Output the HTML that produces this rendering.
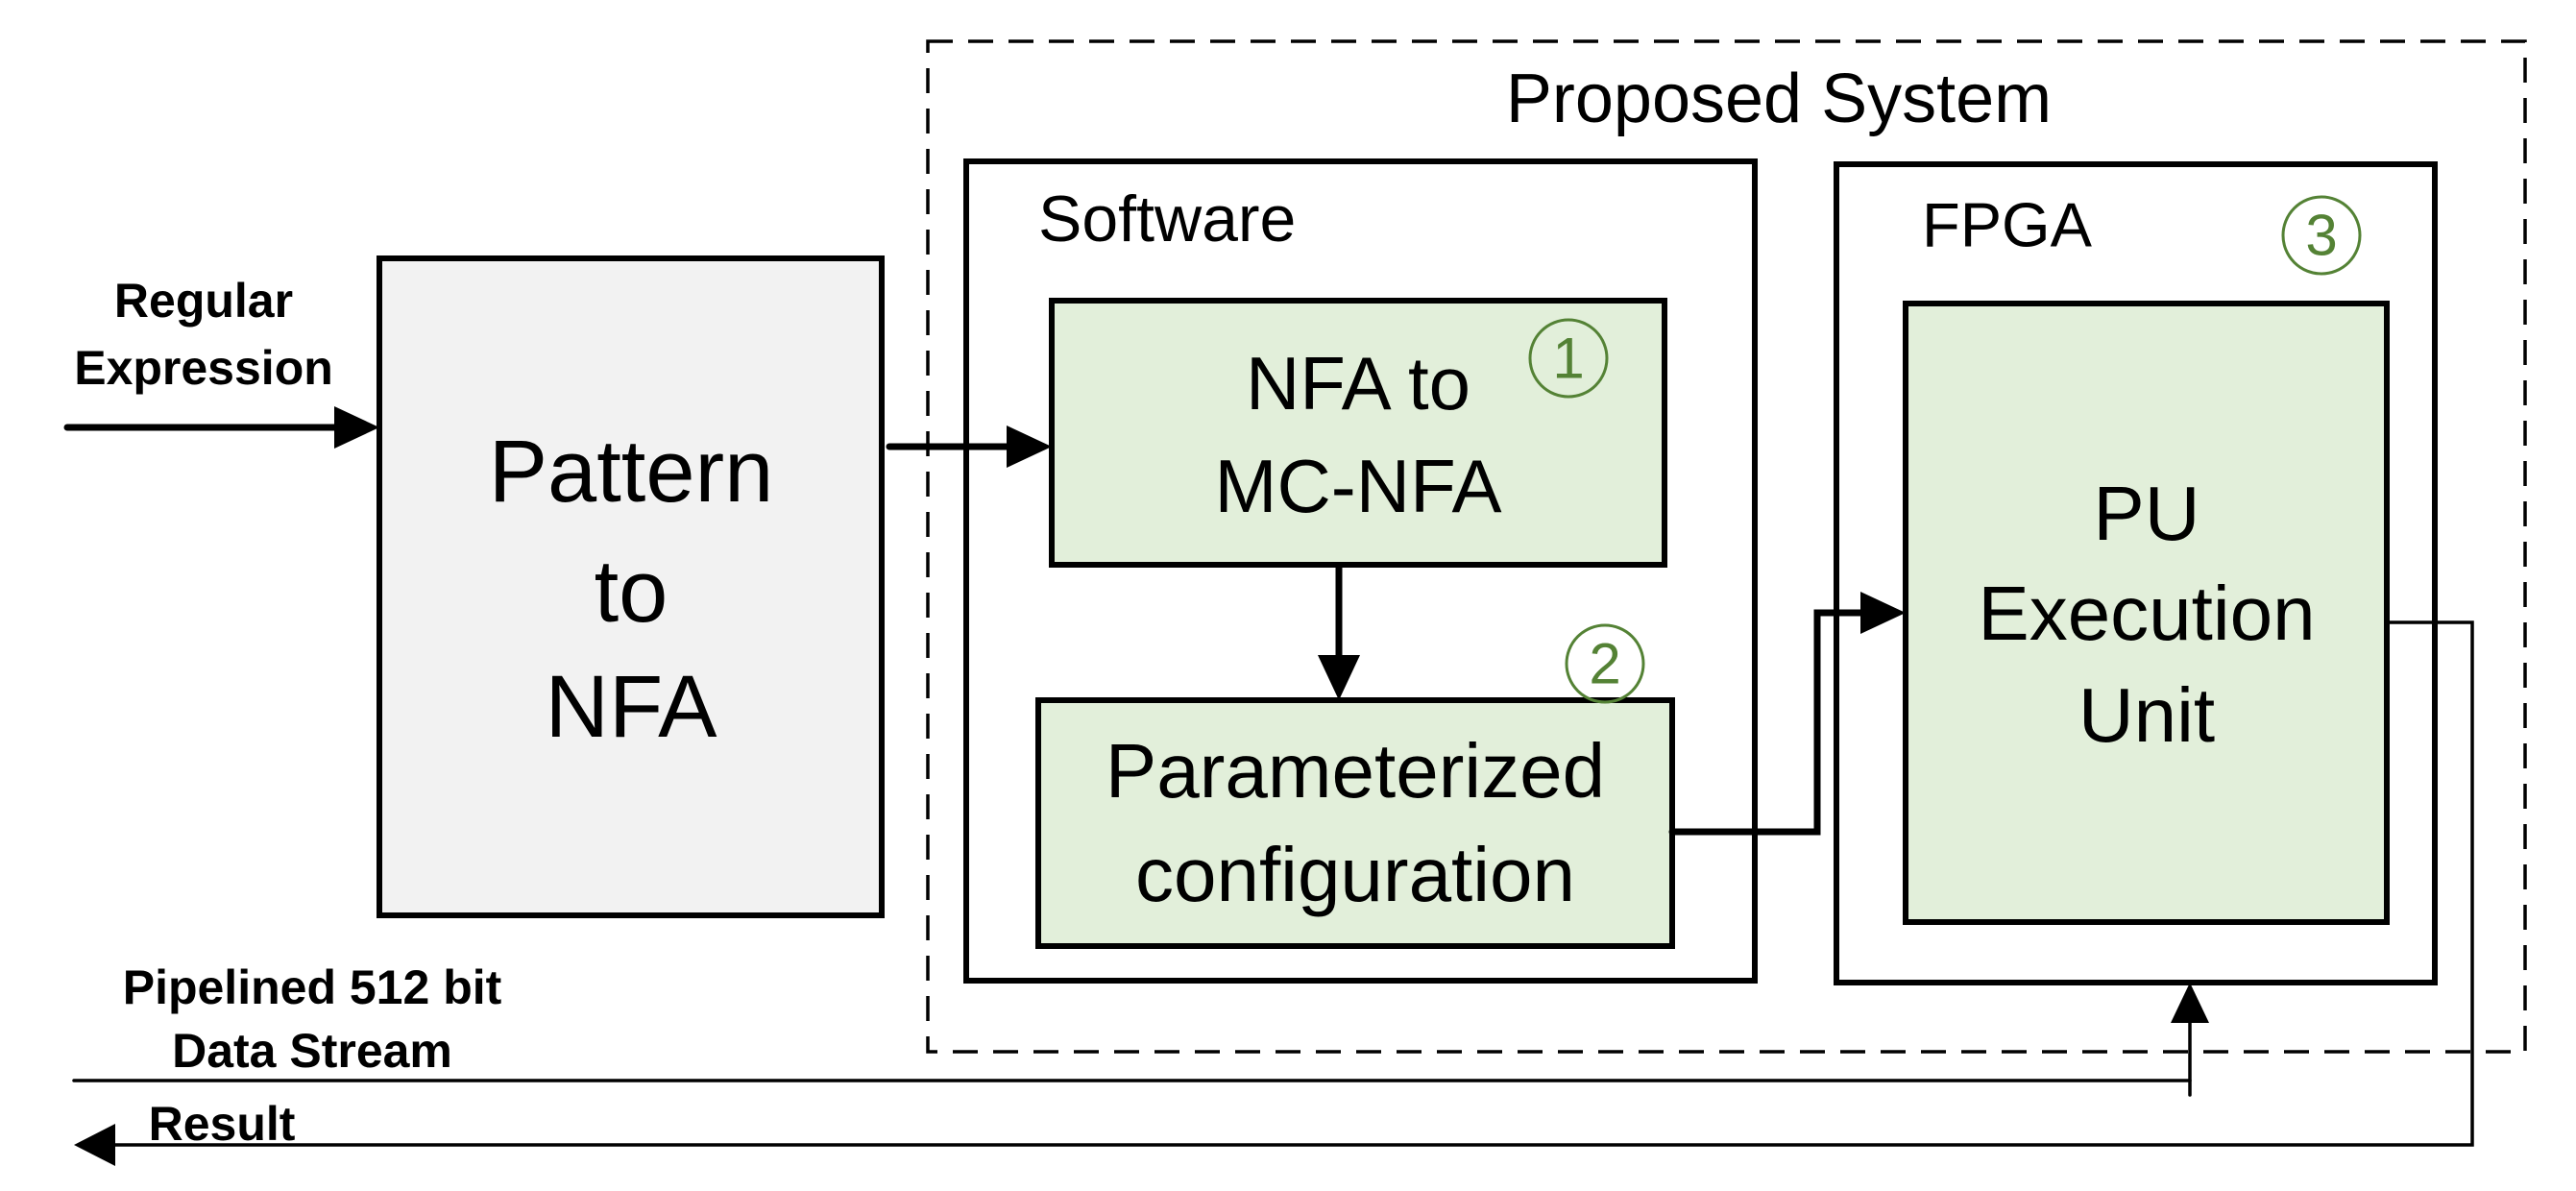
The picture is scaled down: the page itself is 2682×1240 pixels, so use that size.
<!DOCTYPE html>
<html><head><meta charset="utf-8"><style>
html,body{margin:0;padding:0;background:#fff;}
svg{display:block;}
text{font-family:"Liberation Sans",sans-serif;fill:#000;}
</style></head><body>
<svg width="2682" height="1240" viewBox="0 0 2682 1240" xmlns="http://www.w3.org/2000/svg">
<!-- dashed proposed system -->
<rect x="966" y="43" width="1663" height="1052" fill="none" stroke="#000" stroke-width="3.5" stroke-dasharray="26,16"/>
<text x="1852" y="103" font-size="72" text-anchor="middle" dominant-baseline="central">Proposed System</text>
<!-- Pattern box -->
<rect x="395" y="269" width="523" height="684" fill="#f2f2f2" stroke="#000" stroke-width="6"/>
<text font-size="92" text-anchor="middle" dominant-baseline="central"><tspan x="657" y="491">Pattern</tspan><tspan x="657" y="616">to</tspan><tspan x="657" y="736">NFA</tspan></text>
<!-- Software box -->
<rect x="1006" y="168" width="821" height="853" fill="#fff" stroke="#000" stroke-width="6"/>
<text x="1081" y="228" font-size="68" dominant-baseline="central">Software</text>
<rect x="1095" y="313" width="638" height="275" fill="#e2efda" stroke="#000" stroke-width="6"/>
<text font-size="78" text-anchor="middle" dominant-baseline="central"><tspan x="1414" y="399">NFA to</tspan><tspan x="1414" y="506">MC-NFA</tspan></text>
<rect x="1081" y="729" width="660" height="256" fill="#e2efda" stroke="#000" stroke-width="6"/>
<text font-size="80" text-anchor="middle" dominant-baseline="central"><tspan x="1411" y="802">Parameterized</tspan><tspan x="1411" y="910">configuration</tspan></text>
<!-- FPGA box -->
<rect x="1912" y="171" width="623" height="852" fill="#fff" stroke="#000" stroke-width="6"/>
<text x="2001" y="234" font-size="65" dominant-baseline="central">FPGA</text>
<rect x="1984" y="316" width="501" height="644" fill="#e2efda" stroke="#000" stroke-width="6"/>
<text font-size="80" text-anchor="middle" dominant-baseline="central"><tspan x="2235" y="534">PU</tspan><tspan x="2235" y="638">Execution</tspan><tspan x="2235" y="744">Unit</tspan></text>
<!-- circled numbers -->
<g fill="none" stroke="#548235" stroke-width="3">
<circle cx="1633" cy="373" r="40"/><circle cx="1671" cy="691" r="40"/><circle cx="2417" cy="245" r="40"/>
</g>
<g font-size="60" text-anchor="middle" dominant-baseline="central">
<text x="1633" y="373" style="fill:#548235">1</text><text x="1671" y="691" style="fill:#548235">2</text><text x="2417" y="245" style="fill:#548235">3</text>
</g>
<!-- labels -->
<g font-size="50" font-weight="bold" text-anchor="middle" dominant-baseline="central">
<text x="212" y="313">Regular</text><text x="212" y="383">Expression</text>
<text x="325" y="1028">Pipelined 512 bit</text><text x="325" y="1094">Data Stream</text>
<text x="231" y="1170">Result</text>
</g>
<!-- connectors -->
<g stroke="#000" fill="none" stroke-linecap="round">
<line x1="70" y1="445" x2="352" y2="445" stroke-width="7"/>
<line x1="926" y1="465" x2="1052" y2="465" stroke-width="7"/>
<line x1="1394" y1="590" x2="1394" y2="686" stroke-width="7"/>
<polyline points="1741,866 1892,866 1892,638 1942,638" stroke-width="7"/>
<polyline points="2485,648 2574,648 2574,1192 110,1192" stroke-width="3.5"/>
<polyline points="77,1125 2280,1125" stroke-width="3.5"/>
<line x1="2280" y1="1140" x2="2280" y2="1060" stroke-width="3.5"/>
</g>
<g fill="#000">
<polygon points="395,445 348,423 348,467"/>
<polygon points="1095,465 1048,443 1048,487"/>
<polygon points="1394,729 1372,682 1416,682"/>
<polygon points="1984,638 1937,616 1937,660"/>
<polygon points="2280,1023 2260,1065 2300,1065"/>
<polygon points="77,1192 120,1170 120,1214"/>
</g>
</svg>
</body></html>
